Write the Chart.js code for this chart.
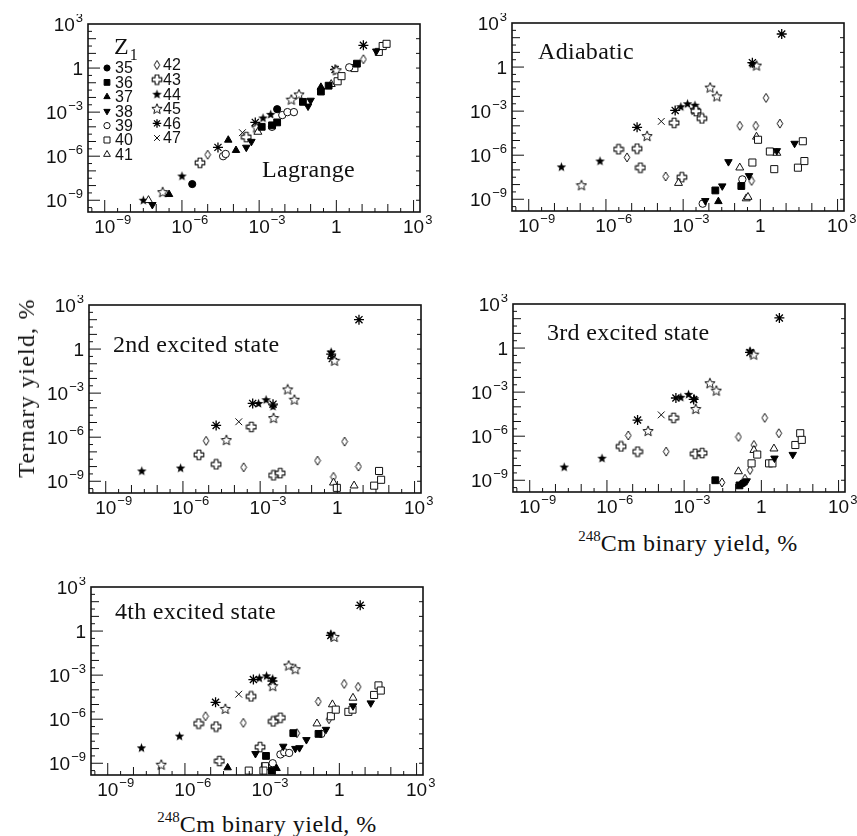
<!DOCTYPE html>
<html><head><meta charset="utf-8">
<script src="https://cdn.jsdelivr.net/npm/chart.js@4.4.1/dist/chart.umd.min.js"></script>
<style>
html,body{margin:0;padding:0;background:#fff;overflow:hidden;width:857px;height:836px;}
#wrap{position:relative;width:857px;height:836px;}
canvas.pc{position:absolute;}
.lbl{position:absolute;font-family:"Liberation Serif","Times New Roman",serif;color:#111;white-space:nowrap;line-height:1;}
.ptitle{font-size:24px;letter-spacing:0.3px;}
.axt{font-size:24px;transform:translate(-50%,-50%);letter-spacing:0.5px;}
.axt sup{font-size:15px;vertical-align:0;position:relative;top:-10px;letter-spacing:0;}
</style></head><body>
<div id="wrap">
<canvas id="c1" class="pc" width="412" height="228" style="left:28px;top:14px"></canvas>
<canvas id="c2" class="pc" width="412" height="228" style="left:452px;top:13px"></canvas>
<canvas id="c3" class="pc" width="412" height="228" style="left:29px;top:295px"></canvas>
<canvas id="c4" class="pc" width="412" height="228" style="left:453px;top:294px"></canvas>
<canvas id="c5" class="pc" width="412" height="228" style="left:31px;top:577px"></canvas>

<div class="lbl ptitle" style="left:262px;top:157px">Lagrange</div>
<div class="lbl ptitle" style="left:538px;top:39px">Adiabatic</div>
<div class="lbl ptitle" style="left:113px;top:332px">2nd excited state</div>
<div class="lbl ptitle" style="left:547px;top:320px">3rd excited state</div>
<div class="lbl ptitle" style="left:115px;top:599px">4th excited state</div>

<div class="lbl axt" style="left:26px;top:388px;transform:translate(-50%,-50%) rotate(-90deg);letter-spacing:1.2px;">Ternary yield, %</div>
<div class="lbl axt" style="left:688px;top:543px;"><sup>248</sup>Cm binary yield, %</div>
<div class="lbl axt" style="left:267px;top:824px;"><sup>248</sup>Cm binary yield, %</div>
</div>
<script>
// ---- axis ticks (base, exponent) ----
const TICK_VALUES = [1e-9, 1e-6, 1e-3, 1, 1e3];
const TICK_BASES = ['10', '10', '10', '1', '10'];
const TICK_EXPS = ['\u22129', '\u22126', '\u22123', '', '3'];
const X_MIN = 10 ** -9.65, X_MAX = 10 ** 3.25;
const Y_MIN = 10 ** -9.8, Y_MAX = 1e3;

// ---- fragment charge Z1 (series) ----
const Z_LIST = [35, 36, 37, 38, 39, 40, 41, 42, 43, 44, 45, 46, 47];

// ---- data: [log10(binary yield %), log10(ternary yield %)] ----
const lagrange = {
  35: [[-5.6,-7.9],[-2.3,-2.8]],
  36: [[-2.9,-4.0],[-2.5,-3.9],[-2.3,-3.7],[-1.3,-2.3],[-0.6,-1.6],[-0.3,-1.2],[0.8,0.3]],
  37: [[-6.5,-8.6],[-4.2,-4.9],[-3.9,-5.6],[-0.6,-1.3]],
  38: [[-7.15,-9.3],[-3.5,-5.4],[-3.3,-5.0],[-1.0,-2.2],[-1.1,-2.6],[1.55,1.15]],
  39: [[-4.4,-6.0],[-4.3,-5.85],[-2.5,-4.0],[-2.1,-3.2],[-1.9,-3.0],[-1.65,-3.0],[0.5,0.05]],
  40: [[0.05,-0.9],[0.2,-0.55],[0.7,0.0],[1.65,1.1],[1.8,1.5],[1.95,1.65]],
  41: [[-7.3,-9.0],[-3.05,-4.35],[-0.2,-1.1]],
  42: [[-5.0,-5.9],[1.05,0.6]],
  43: [[-5.3,-6.45],[-3.5,-4.7]],
  44: [[-7.5,-9.0],[-6.0,-7.35],[-2.85,-3.4],[-2.55,-3.15]],
  45: [[-6.75,-8.45],[-3.1,-4.05],[-1.75,-2.15],[-1.45,-1.8],[0.0,-0.15]],
  46: [[-4.6,-5.4],[-3.15,-3.7],[-0.05,-0.1],[1.05,1.55]],
  47: [[-3.65,-4.4]]
};
const adiabatic = {
  36: [[-1.75,-8.4],[-0.74,-8.1]],
  37: [[-1.63,-9.15]],
  38: [[-2.14,-9.1],[-1.48,-8.1],[-1.24,-6.45],[-0.44,-7.4],[0.64,-5.7],[1.33,-5.2]],
  39: [[-2.24,-9.3],[-0.7,-7.65]],
  40: [[-0.31,-6.5],[-0.09,-4.95],[0.37,-5.75],[0.54,-6.95],[1.46,-6.85],[1.65,-5.05],[1.71,-6.4]],
  41: [[-3.18,-7.9],[-0.8,-6.85],[-0.55,-8.95],[-0.48,-8.85],[-0.15,-4.75],[0.64,-5.85]],
  42: [[-5.18,-6.15],[-3.68,-7.45],[-0.8,-4.0],[-0.34,-7.75],[-0.18,-4.0],[0.22,-2.1],[0.76,-3.85]],
  43: [[-5.51,-5.6],[-4.79,-5.55],[-4.66,-6.85],[-3.35,-3.8],[-3.05,-7.5],[-2.5,-3.0],[-2.27,-3.5]],
  44: [[-7.73,-6.8],[-6.23,-6.4],[-3.09,-2.7],[-2.83,-2.5],[-2.54,-2.6],[-0.31,0.22]],
  45: [[-6.95,-8.05],[-4.4,-4.7],[-2.54,-2.9],[-1.95,-1.4],[-1.69,-2.0],[-0.15,0.1]],
  46: [[-4.79,-4.1],[-3.31,-2.95],[-0.31,0.3],[0.83,2.25]],
  47: [[-3.85,-3.7]]
};
const excited2 = {
  40: [[-0.02,-9.45],[1.43,-9.3],[1.7,-8.9],[1.62,-8.3]],
  41: [[-0.15,-9.1],[0.65,-9.3]],
  42: [[-5.1,-6.25],[-3.64,-8.05],[-0.77,-7.6],[-0.15,-8.7],[0.28,-6.3],[0.82,-8.0]],
  43: [[-5.38,-7.2],[-4.71,-7.85],[-3.34,-5.3],[-2.48,-8.6],[-2.22,-8.45]],
  44: [[-7.6,-8.3],[-6.09,-8.1],[-3.06,-3.7],[-2.77,-3.45],[-2.5,-3.9],[-0.24,-0.2]],
  45: [[-4.31,-6.2],[-2.48,-4.7],[-1.93,-2.75],[-1.67,-3.45],[-0.11,-0.8]],
  46: [[-4.71,-5.2],[-3.29,-3.7],[-2.5,-3.75],[-0.24,-0.35],[-0.2,-0.65],[0.84,2.0]],
  47: [[-3.83,-4.95]]
};
const excited3 = {
  35: [[-0.72,-9.2]],
  36: [[-1.79,-9.0],[-0.85,-9.35]],
  38: [[-0.57,-9.05],[0.51,-7.5],[1.22,-7.25]],
  40: [[-0.38,-7.85],[-0.16,-7.25],[0.3,-7.85],[0.43,-7.85],[1.32,-6.6],[1.51,-5.8],[1.57,-6.25]],
  41: [[-0.89,-8.4],[-0.29,-6.95],[0.49,-6.85]],
  42: [[-5.17,-5.95],[-3.7,-7.05],[-1.53,-9.15],[-0.89,-6.05],[-0.64,-8.9],[-0.44,-8.3],[-0.29,-6.6],[0.13,-4.75],[0.68,-5.8]],
  43: [[-5.45,-6.7],[-4.81,-7.05],[-3.41,-4.75],[-2.57,-7.2],[-2.3,-7.15]],
  44: [[-7.66,-8.1],[-6.19,-7.5],[-3.13,-3.35],[-2.83,-3.15],[-2.6,-3.45],[-0.44,-0.2]],
  45: [[-4.4,-5.65],[-2.55,-4.15],[-2.0,-2.4],[-1.75,-2.9],[-0.3,-0.45]],
  46: [[-4.81,-4.9],[-3.32,-3.4],[-2.63,-3.5],[-0.44,-0.3],[0.7,2.05]],
  47: [[-3.89,-4.55]]
};
const excited4 = {
  36: [[-2.85,-8.5],[-2.62,-9.5],[-1.79,-6.95],[-0.81,-7.0]],
  37: [[-4.34,-9.3],[-2.44,-9.35]],
  38: [[-3.26,-8.35],[-2.18,-7.85],[-1.71,-8.0],[-1.55,-7.95],[-1.28,-7.4],[-0.52,-6.7],[0.53,-5.1],[1.22,-4.9]],
  39: [[-2.59,-9.0],[-2.29,-8.4],[-2.14,-8.25],[-1.95,-8.3],[-0.7,-7.0]],
  40: [[-3.52,-9.5],[-2.89,-9.2],[-2.95,-9.5],[-0.33,-5.8],[-0.14,-5.35],[0.35,-5.5],[0.51,-5.35],[1.35,-4.35],[1.52,-3.7],[1.61,-4.05]],
  41: [[-0.87,-6.3],[-0.27,-5.0],[0.53,-4.55]],
  42: [[-5.2,-5.8],[-3.73,-6.25],[-1.65,-6.95],[-0.82,-4.8],[-0.4,-6.0],[0.19,-3.6],[0.73,-3.8]],
  43: [[-5.47,-6.3],[-4.79,-6.5],[-4.66,-8.85],[-3.43,-4.45],[-3.08,-7.9],[-2.57,-6.15],[-2.29,-5.9]],
  44: [[-7.69,-7.95],[-6.21,-7.15],[-3.11,-3.2],[-2.83,-3.05],[-2.59,-3.25],[-0.33,-0.2]],
  45: [[-6.92,-9.1],[-4.43,-5.3],[-2.59,-3.75],[-1.97,-2.35],[-1.71,-2.6],[-0.2,-0.4]],
  46: [[-4.81,-4.85],[-3.34,-3.3],[-2.6,-3.4],[-0.33,-0.3],[0.81,1.75]],
  47: [[-3.91,-4.3]]
};

// ---- marker images ----
function mk(w, h, draw) {
  const c = document.createElement('canvas'); c.width = w; c.height = h;
  const g = c.getContext('2d'); draw(g, w, h); return c;
}
function starPath(g, cx, cy, R, r) {
  g.beginPath();
  for (let i = 0; i < 10; i++) {
    const ang = -Math.PI / 2 + i * Math.PI / 5;
    const rr = i % 2 ? r : R;
    const px = cx + rr * Math.cos(ang), py = cy + rr * Math.sin(ang);
    i ? g.lineTo(px, py) : g.moveTo(px, py);
  }
  g.closePath();
}
const diamondImg = mk(8, 11, g => {
  g.beginPath(); g.moveTo(4, 1); g.lineTo(6.8, 5.5); g.lineTo(4, 10); g.lineTo(1.2, 5.5); g.closePath();
  g.fillStyle = '#fff'; g.fill(); g.lineWidth = 1; g.strokeStyle = '#111'; g.stroke();
});
const crossImg = mk(12, 12, g => {
  const a = 4.1, b = 7.9, lo = 1.2, hi = 10.8;
  g.beginPath();
  g.moveTo(a, lo); g.lineTo(b, lo); g.lineTo(b, a); g.lineTo(hi, a); g.lineTo(hi, b); g.lineTo(b, b);
  g.lineTo(b, hi); g.lineTo(a, hi); g.lineTo(a, b); g.lineTo(lo, b); g.lineTo(lo, a); g.lineTo(a, a);
  g.closePath(); g.lineJoin = 'round';
  g.fillStyle = '#fff'; g.fill(); g.lineWidth = 1.1; g.strokeStyle = '#111'; g.stroke();
});
const starFilledImg = mk(11, 11, g => {
  starPath(g, 5.5, 5.8, 5, 2.1); g.fillStyle = '#000'; g.fill();
});
const starOpenImg = mk(12, 12, g => {
  starPath(g, 6, 6.3, 5.4, 2.4); g.fillStyle = '#fff'; g.fill();
  g.lineWidth = 1; g.strokeStyle = '#111'; g.stroke();
});

const STYLE = {
  35: {pointStyle: 'circle', pointRadius: 3.6, pointBackgroundColor: '#000', pointBorderColor: '#000', pointBorderWidth: 1},
  36: {pointStyle: 'rect', pointRadius: 4.8, pointBackgroundColor: '#000', pointBorderColor: '#000', pointBorderWidth: 1},
  37: {pointStyle: 'triangle', pointRadius: 4.3, pointBackgroundColor: '#000', pointBorderColor: '#000', pointBorderWidth: 1},
  38: {pointStyle: 'triangle', pointRadius: 4.3, pointRotation: 180, pointBackgroundColor: '#000', pointBorderColor: '#000', pointBorderWidth: 1},
  39: {pointStyle: 'circle', pointRadius: 3.7, pointBackgroundColor: '#fff', pointBorderColor: '#111', pointBorderWidth: 1},
  40: {pointStyle: 'rect', pointRadius: 5, pointBackgroundColor: '#fff', pointBorderColor: '#111', pointBorderWidth: 1},
  41: {pointStyle: 'triangle', pointRadius: 4.6, pointBackgroundColor: '#fff', pointBorderColor: '#111', pointBorderWidth: 1},
  42: {pointStyle: diamondImg, pointRadius: 4},
  43: {pointStyle: crossImg, pointRadius: 4},
  44: {pointStyle: starFilledImg, pointRadius: 4},
  45: {pointStyle: starOpenImg, pointRadius: 4},
  46: {pointStyle: 'star', pointRadius: 5, pointBackgroundColor: '#000', pointBorderColor: '#000', pointBorderWidth: 1.3},
  47: {pointStyle: 'crossRot', pointRadius: 4.8, pointBackgroundColor: '#000', pointBorderColor: '#111', pointBorderWidth: 1}
};

// ---- frame + inward ticks + tick labels ----
const BASE_FONT = '19px "Liberation Sans", Arial, sans-serif';
const EXP_FONT = '13px "Liberation Sans", Arial, sans-serif';
const framePlugin = {
  id: 'frame',
  afterDraw(chart) {
    const {ctx, chartArea: a, scales: {x, y}} = chart;
    ctx.save();
    ctx.strokeStyle = '#111'; ctx.lineWidth = 1;
    ctx.beginPath();
    for (let e = -9.5; e <= 3.01; e += 0.5) {
      const len = (Number.isInteger(e) && e % 3 === 0) ? 12 : (Number.isInteger(e) ? 8 : 4);
      const px = x.getPixelForValue(10 ** e);
      if (px > a.left + 1 && px < a.right - 1) { ctx.moveTo(px, a.bottom); ctx.lineTo(px, a.bottom - len); }
      const py = y.getPixelForValue(10 ** e);
      if (py > a.top + 1 && py < a.bottom - 1) {
        ctx.moveTo(a.left, py); ctx.lineTo(a.left + len, py);
        if (Number.isInteger(e)) { ctx.moveTo(a.right, py); ctx.lineTo(a.right - 4, py); }
      }
    }
    ctx.stroke();
    ctx.lineWidth = 1.6;
    ctx.strokeRect(a.left, a.top, a.right - a.left, a.bottom - a.top);

    // tick labels: "10" with raised exponent
    ctx.fillStyle = '#111';
    ctx.textBaseline = 'alphabetic'; ctx.textAlign = 'left';
    TICK_VALUES.forEach((v, i) => {
      const base = TICK_BASES[i], exp = TICK_EXPS[i];
      ctx.font = BASE_FONT; const bw = ctx.measureText(base).width;
      ctx.font = EXP_FONT; const ew = exp ? ctx.measureText(exp).width + 1 : 0;
      // x axis
      const px = x.getPixelForValue(v);
      ctx.font = BASE_FONT; ctx.fillText(base, px - bw / 2, a.bottom + 21);
      if (exp) { ctx.font = EXP_FONT; ctx.fillText(exp, px + bw / 2 + 1, a.bottom + 12); }
      // y axis
      const py = y.getPixelForValue(v);
      const right = a.left - 5;
      ctx.font = BASE_FONT; ctx.fillText(base, right - ew - bw, py + 7);
      if (exp) { ctx.font = EXP_FONT; ctx.fillText(exp, right - ew + 1, py - 2); }
    });
    ctx.restore();
  }
};

// ---- Z1 legend (Lagrange panel) ----
const legendPlugin = {
  id: 'zlegend',
  afterDraw(chart) {
    const {ctx, chartArea: a} = chart;
    ctx.save();
    ctx.fillStyle = '#111';
    ctx.textBaseline = 'alphabetic';
    ctx.font = '24px "Liberation Serif"';
    ctx.fillText('Z', a.left + 26, a.top + 30);
    const zw = ctx.measureText('Z').width;
    ctx.font = '16px "Liberation Serif"';
    ctx.fillText('1', a.left + 27 + zw, a.top + 36);
    Z_LIST.forEach((z, i) => {
      const col = i < 7 ? 0 : 1, row = col ? i - 7 : i;
      const mx = a.left + (col ? 69 : 19);
      const my = a.top + (col ? 41 + row * 14.6 : 44 + row * 14.4);
      const st = STYLE[z];
      ctx.fillStyle = st.pointBackgroundColor || '#000';
      ctx.strokeStyle = st.pointBorderColor || '#000';
      const bw = st.pointBorderWidth || 0;
      ctx.lineWidth = bw;
      Chart.helpers.drawPoint(ctx, {pointStyle: st.pointStyle, radius: st.pointRadius * 0.85, rotation: st.pointRotation || 0, borderWidth: bw}, mx, my);
      ctx.fillStyle = '#111';
      ctx.font = '16px "Liberation Sans"';
      ctx.textBaseline = 'middle';
      ctx.fillText(String(z), mx + (col ? 6 : 8), my + 1);
    });
    ctx.restore();
  }
};

function axis(isX) {
  return {
    type: 'logarithmic',
    min: isX ? X_MIN : Y_MIN,
    max: isX ? X_MAX : Y_MAX,
    grid: {display: false},
    border: {display: false},
    afterBuildTicks: s => { s.ticks = TICK_VALUES.map(v => ({value: v})); },
    afterFit: s => { if (isX) s.height = 30; else s.width = 60; },
    ticks: {display: false}
  };
}

function makeChart(id, panel, withLegend) {
  const datasets = Z_LIST.map(z => Object.assign({
    label: 'Z1 = ' + z,
    data: (panel[z] || []).map(p => ({x: 10 ** p[0], y: 10 ** p[1]}))
  }, STYLE[z]));
  return new Chart(document.getElementById(id), {
    type: 'scatter',
    data: {datasets},
    options: {
      responsive: false, animation: false, devicePixelRatio: 1,
      layout: {padding: {top: 10, right: 20, left: 0, bottom: 0}},
      plugins: {legend: {display: false}, tooltip: {enabled: false}},
      scales: {x: axis(true), y: axis(false)}
    },
    plugins: withLegend ? [framePlugin, legendPlugin] : [framePlugin]
  });
}

makeChart('c1', lagrange, true);
makeChart('c2', adiabatic, false);
makeChart('c3', excited2, false);
makeChart('c4', excited3, false);
makeChart('c5', excited4, false);
</script>
</body></html>
